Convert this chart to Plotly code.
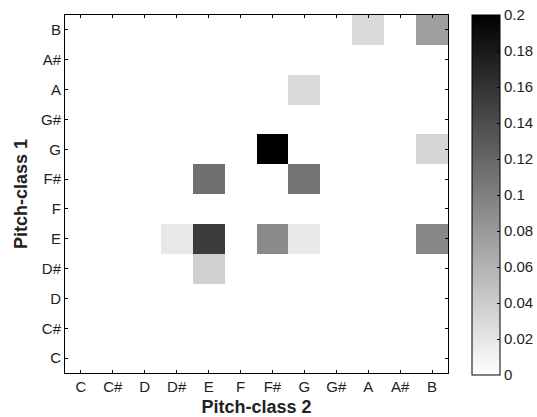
import plotly.graph_objects as go

pitch_classes = ["C", "C#", "D", "D#", "E", "F", "F#", "G", "G#", "A", "A#", "B"]
# nonzero entries: (pitch-class 1, pitch-class 2, value)
row_pc1 = ["B", "B", "A", "G", "G", "F#", "F#", "E", "E", "E", "E", "E", "D#"]
col_pc2 = ["A", "B", "G", "F#", "B", "E", "G", "D#", "E", "F#", "G", "B", "E"]
values = [0.030, 0.075, 0.030, 0.200, 0.033, 0.112, 0.108, 0.018, 0.154, 0.092, 0.017, 0.093, 0.037]
cbar_ticks = [0, 0.02, 0.04, 0.06, 0.08, 0.1, 0.12, 0.14, 0.16, 0.18, 0.2]
cbar_labels = ["0", "0.02", "0.04", "0.06", "0.08", "0.1", "0.12", "0.14", "0.16", "0.18", "0.2"]

n = len(pitch_classes)
z = [[0.0] * n for _ in range(n)]
for r, c, v in zip(row_pc1, col_pc2, values):
    z[pitch_classes.index(r)][pitch_classes.index(c)] = v

font = "Liberation Sans, Arial, sans-serif"
fig = go.Figure(go.Heatmap(
    z=z, x=list(range(n)), y=list(range(n)),
    colorscale=[[0, "white"], [1, "black"]], zmin=0, zmax=0.2,
    colorbar=dict(
        x=472 / 537, xanchor="left", xref="container",
        y=(373 - 195) / 358, yanchor="middle", yref="paper",
        len=360, lenmode="pixels", thickness=28, thicknessmode="pixels",
        outlinecolor="black", outlinewidth=1,
        tickvals=cbar_ticks, ticktext=cbar_labels,
        ticks="inside", ticklen=3, tickcolor="black",
        tickfont=dict(family=font, size=15, color="#222"),
        xpad=0, ypad=0,
    ),
))

axis_common = dict(
    showgrid=False, zeroline=False, showline=True, linecolor="black", linewidth=1,
    mirror="ticks", ticks="inside", ticklen=3, tickcolor="black",
    tickfont=dict(family=font, size=15, color="#222"),
    tickvals=list(range(n)), ticktext=pitch_classes, range=[-0.5, n - 0.5],
    automargin=False,
)
fig.update_layout(
    width=537, height=417,
    margin=dict(l=65, r=89, t=15, b=44, autoexpand=False),
    paper_bgcolor="white", plot_bgcolor="white",
    xaxis=dict(**axis_common, ticklabelstandoff=0,
               title=dict(text="<b>Pitch-class 2</b>", font=dict(family=font, size=18, color="#222"), standoff=8)),
    yaxis=dict(**axis_common,
               title=dict(text="<b>Pitch-class 1</b>", font=dict(family=font, size=18, color="#222"), standoff=8)),
)
fig.write_html("out.html")
